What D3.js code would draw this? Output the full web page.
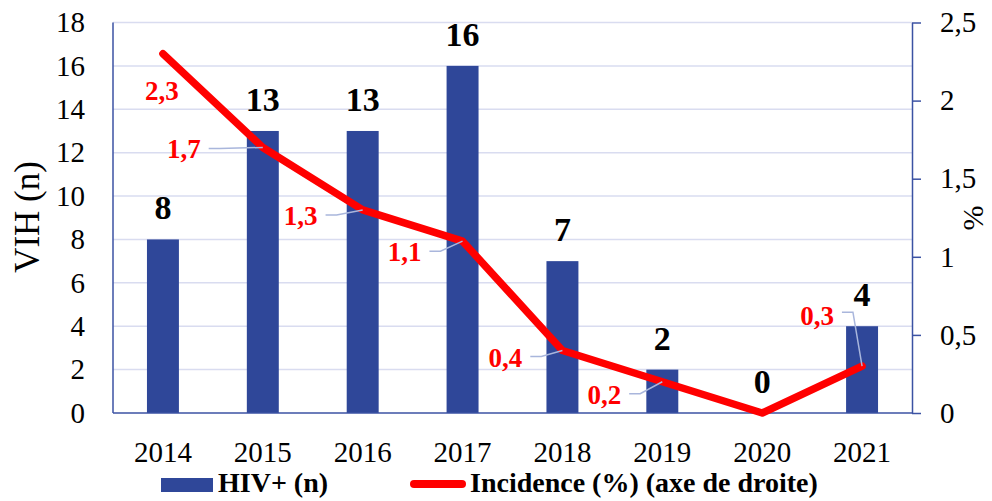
<!DOCTYPE html>
<html>
<head>
<meta charset="utf-8">
<script src="https://cdn.jsdelivr.net/npm/d3@7"></script>
<style>
  body { margin: 0; background: #fff; }
  svg { display: block; }
  svg text { font-family: "Liberation Serif", "Times New Roman", serif; }
</style>
</head>
<body>
<div id="chart"></div>
<script>
// data
var years = ["2014", "2015", "2016", "2017", "2018", "2019", "2020", "2021"];
var hivCounts = [8, 13, 13, 16, 7, 2, 0, 4];
var incidence = [2.3, 1.7, 1.3, 1.1, 0.4, 0.2, 0, 0.3];
var leftTicks = [0, 2, 4, 6, 8, 10, 12, 14, 16, 18];
var rightTicks = [0, 0.5, 1, 1.5, 2, 2.5];
var seriesNames = ["HIV+ (n)", "Incidence (%) (axe de droite)"];

// where each red label sits relative to its point (null = no label)
var labelOffsets = [
    {dx: -1, dy: 46, leader: false},
    {dx: -79, dy: 11, leader: true},
    {dx: -62, dy: 15, leader: true},
    {dx: -58, dy: 20, leader: true},
    {dx: -57, dy: 16, leader: true},
    {dx: -58, dy: 22, leader: true},
    null,
    {dx: -45, dy: -41, leader: true, up: true}
];

var w = 992,
    h = 501,
    plotLeft = 113,
    plotRight = 912,
    plotTop = 22.5,
    plotBottom = 413;

var serif = "'Liberation Serif', 'Times New Roman', serif";

var barColor = "#2f4799",
    axisColor = "#3b52a3",
    gridColor = "#d9dcf0",
    red = "#ff0000";

var svg = d3.select("#chart").append("svg")
    .attr("width", w)
    .attr("height", h);

var x = d3.scaleBand()
    .domain(years)
    .range([plotLeft, plotRight])
    .paddingInner(0.68)
    .paddingOuter(0.34);

var yL = d3.scaleLinear().domain([0, 18]).range([plotBottom, plotTop]);
var yR = d3.scaleLinear().domain([0, 2.5]).range([plotBottom, plotTop]);

var comma = function(d) { return String(d).replace(".", ","); };

// gridlines
svg.append("g")
    .selectAll("line")
    .data(leftTicks.filter(function(d) { return d > 0; }))
    .enter().append("line")
    .attr("x1", plotLeft)
    .attr("x2", plotRight)
    .attr("y1", function(d) { return yL(d); })
    .attr("y2", function(d) { return yL(d); })
    .attr("stroke", gridColor)
    .attr("stroke-width", 1.5);

// bars
svg.append("g")
    .selectAll("rect")
    .data(hivCounts)
    .enter().append("rect")
    .attr("x", function(d, i) { return x(years[i]); })
    .attr("width", x.bandwidth())
    .attr("y", function(d) { return yL(d); })
    .attr("height", function(d) { return plotBottom - yL(d); })
    .attr("fill", barColor);

// left axis
var gLeft = svg.append("g")
    .attr("transform", "translate(" + plotLeft + ",0)")
    .call(d3.axisLeft(yL).tickValues(leftTicks).tickSize(0).tickPadding(28));
gLeft.select(".domain").remove();
gLeft.selectAll("text")
    .style("font-family", serif)
    .style("font-size", "29px")
    .attr("fill", "#000");

// right axis
var gRight = svg.append("g")
    .attr("transform", "translate(" + plotRight + ",0)")
    .call(d3.axisRight(yR).tickValues(rightTicks).tickFormat(comma)
        .tickSize(9).tickSizeOuter(0).tickPadding(19));
gRight.select(".domain").attr("stroke", axisColor).attr("stroke-width", 1.5);
gRight.selectAll(".tick line").attr("stroke", axisColor).attr("stroke-width", 1.5);
gRight.selectAll("text")
    .style("font-family", serif)
    .style("font-size", "29px")
    .attr("fill", "#000");

// bottom axis
var gBottom = svg.append("g")
    .attr("transform", "translate(0," + plotBottom + ")")
    .call(d3.axisBottom(x).tickSize(0).tickPadding(28));
gBottom.select(".domain").remove();
gBottom.selectAll("text")
    .style("font-family", serif)
    .style("font-size", "29px")
    .attr("fill", "#000");

// axis lines
svg.append("line")
    .attr("x1", plotLeft).attr("x2", plotLeft)
    .attr("y1", plotTop).attr("y2", plotBottom)
    .attr("stroke", axisColor).attr("stroke-width", 1.5);
svg.append("line")
    .attr("x1", plotLeft).attr("x2", plotRight)
    .attr("y1", plotBottom).attr("y2", plotBottom)
    .attr("stroke", axisColor).attr("stroke-width", 1.5);

// bar value labels
svg.append("g")
    .selectAll("text")
    .data(hivCounts)
    .enter().append("text")
    .attr("x", function(d, i) { return x(years[i]) + x.bandwidth() / 2; })
    .attr("y", function(d) { return yL(d) - 20; })
    .attr("text-anchor", "middle")
    .style("font-family", serif)
    .style("font-size", "34px")
    .style("font-weight", "bold")
    .text(function(d) { return d; });

// incidence line
var cx = function(i) { return x(years[i]) + x.bandwidth() / 2; };
var line = d3.line()
    .x(function(d, i) { return cx(i); })
    .y(function(d) { return yR(d); });

svg.append("path")
    .datum(incidence)
    .attr("d", line)
    .attr("fill", "none")
    .attr("stroke", red)
    .attr("stroke-width", 7.5)
    .attr("stroke-linejoin", "round")
    .attr("stroke-linecap", "round");

// incidence labels with leader lines
var gLab = svg.append("g");
incidence.forEach(function(v, i) {
    var o = labelOffsets[i];
    if (!o) return;
    var px = cx(i), py = yR(v);
    var t = gLab.append("text")
        .attr("x", px + o.dx)
        .attr("y", py + o.dy)
        .attr("text-anchor", "middle")
        .attr("fill", red)
        .style("font-family", serif)
        .style("font-size", "27px")
        .style("font-weight", "bold")
        .text(comma(v));
    if (o.leader) {
        var bb = t.node().getBBox();
        var sx = bb.x + bb.width + 8,
            sy = py + o.dy - (o.up ? 13 : 10);
        var ex = sx + 11;
        gLab.insert("path", "text")
            .attr("d", "M" + sx + "," + sy + "L" + ex + "," + sy + "L" + px + "," + py)
            .attr("fill", "none")
            .attr("stroke", "#a9b6dc")
            .attr("stroke-width", 1.5);
    }
});

// axis titles
svg.append("text")
    .attr("transform", "translate(39,217) rotate(-90)")
    .attr("text-anchor", "middle")
    .style("font-family", serif)
    .style("font-size", "35px")
    .text("VIH (n)");
svg.append("text")
    .attr("transform", "translate(983,218) rotate(-90)")
    .attr("text-anchor", "middle")
    .style("font-family", serif)
    .style("font-size", "30px")
    .text("%");

// legend
var legend = svg.append("g");
legend.append("rect")
    .attr("x", 161).attr("y", 478)
    .attr("width", 52).attr("height", 14)
    .attr("fill", barColor);
legend.append("text")
    .attr("x", 218).attr("y", 492)
    .style("font-family", serif)
    .style("font-size", "28px")
    .style("font-weight", "bold")
    .text(seriesNames[0]);
legend.append("line")
    .attr("x1", 414).attr("x2", 462)
    .attr("y1", 484).attr("y2", 484)
    .attr("stroke", red)
    .attr("stroke-width", 8)
    .attr("stroke-linecap", "round");
legend.append("text")
    .attr("x", 470).attr("y", 492)
    .style("font-family", serif)
    .style("font-size", "28px")
    .style("font-weight", "bold")
    .text(seriesNames[1]);
</script>
</body>
</html>
